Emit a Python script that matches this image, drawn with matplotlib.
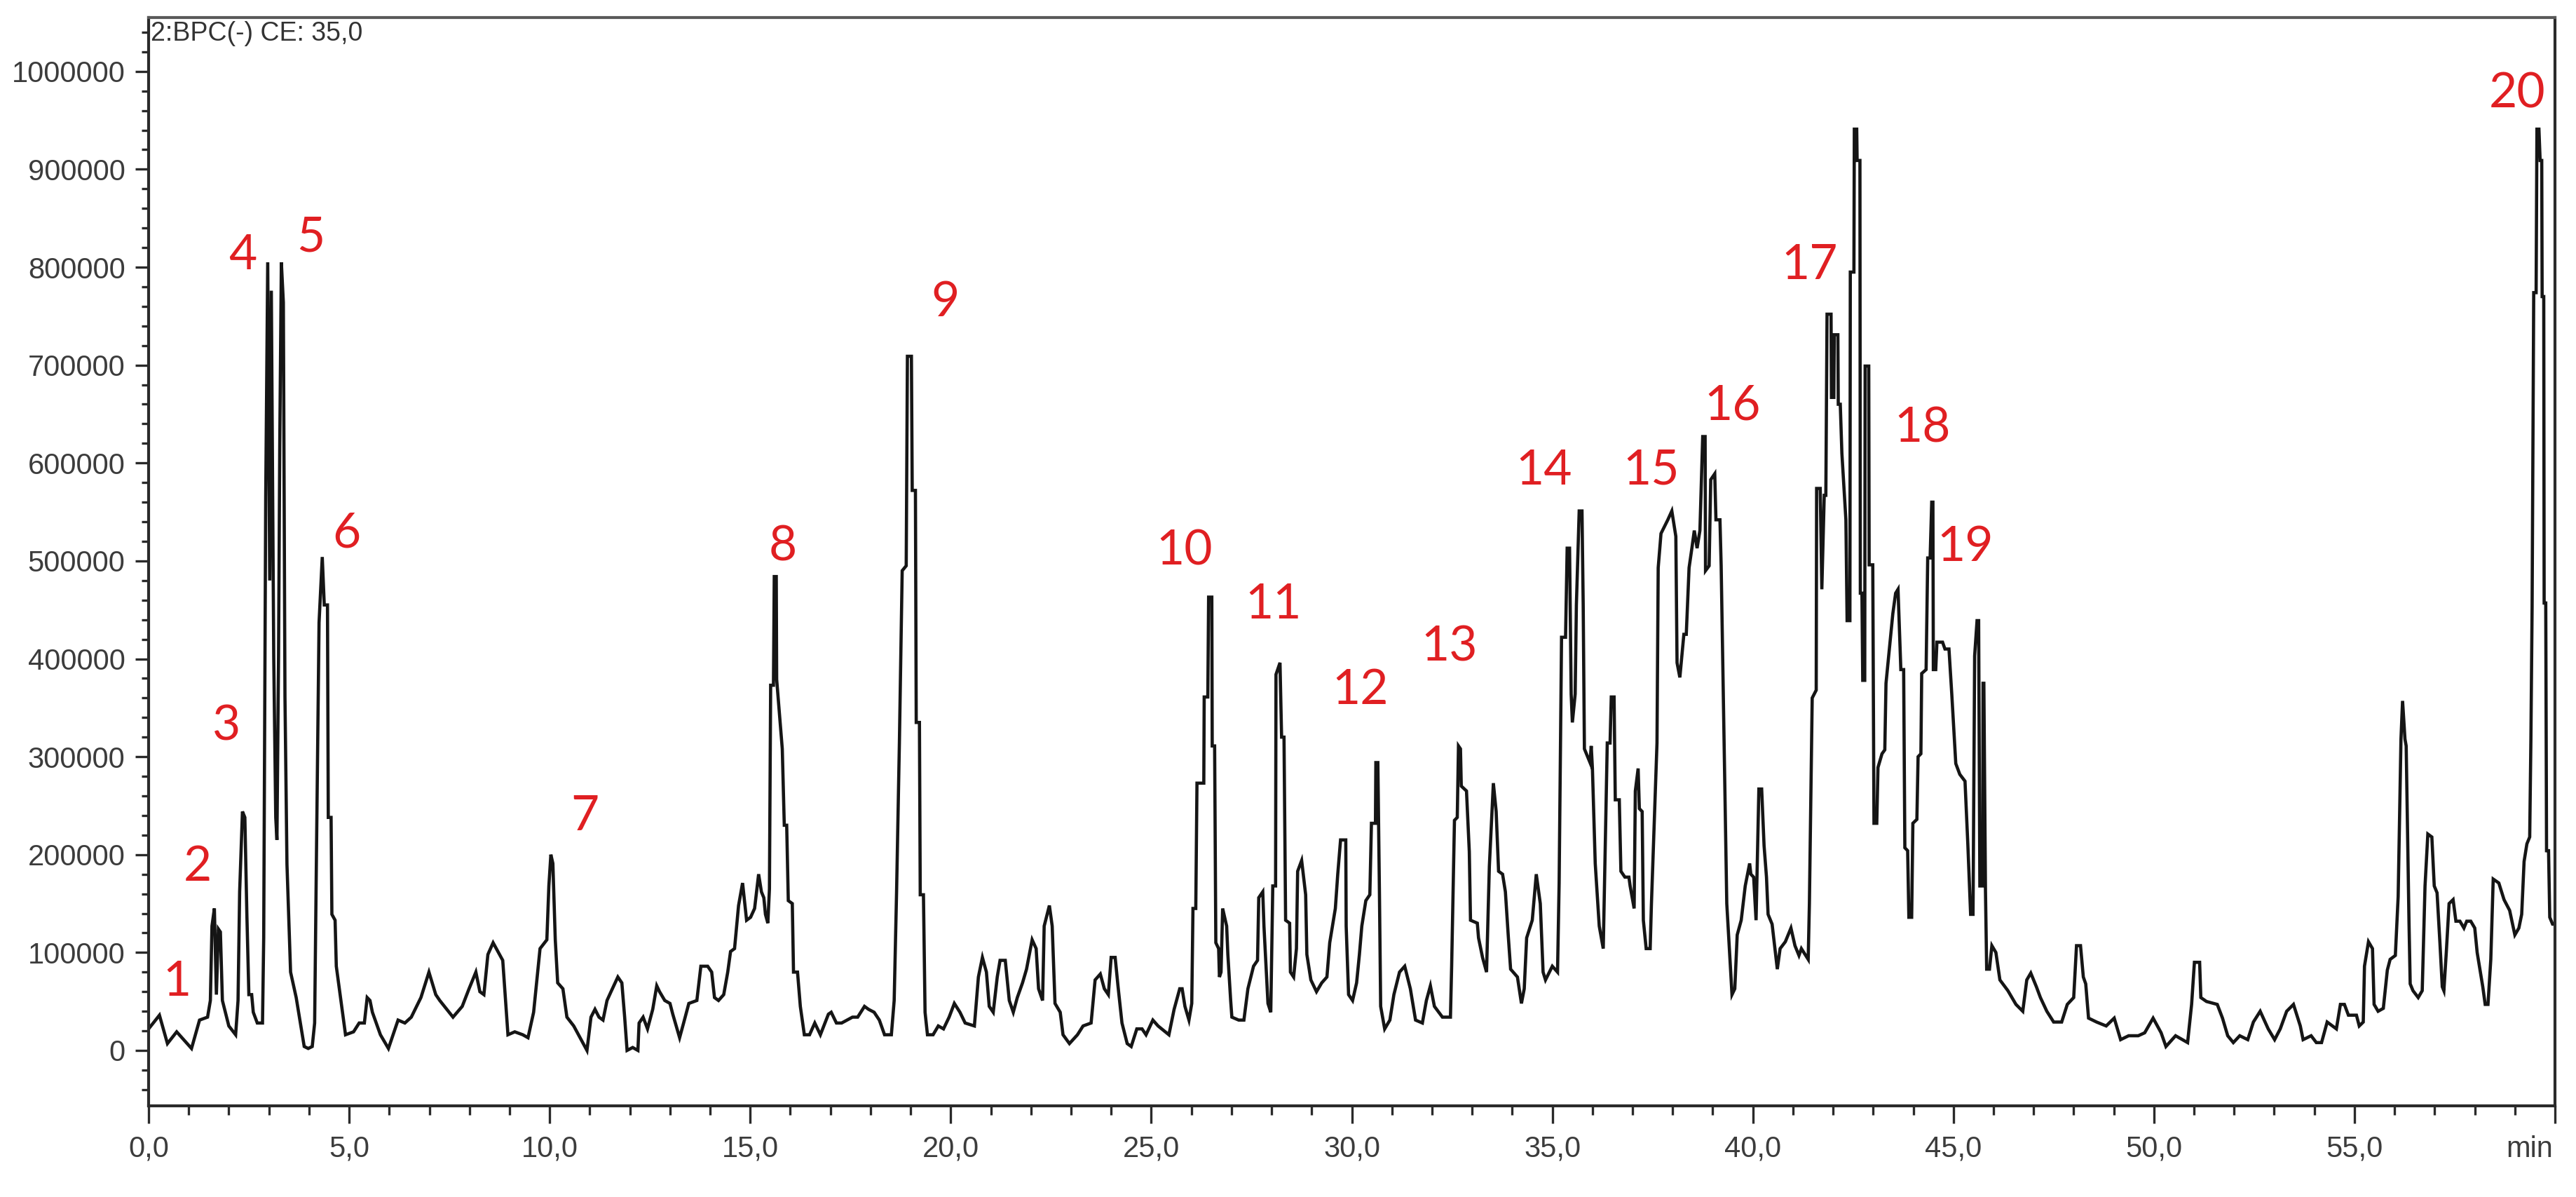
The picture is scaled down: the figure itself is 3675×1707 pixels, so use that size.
import numpy as np
import matplotlib
matplotlib.use("Agg")
import matplotlib.pyplot as plt
from matplotlib import font_manager
from matplotlib.ticker import MultipleLocator, FixedLocator, FuncFormatter

# ---------------- data (retention time in min, intensity in thousands of counts) -------------
rt_seg1 = [0.00,0.27,0.47,0.70,1.07,1.27,1.47,1.54,1.58,1.64,1.69,1.74,1.79,1.84,2.00,2.17,2.23,2.27,2.34,2.40,
           2.45,2.50,2.57,2.61,2.71,2.84,2.87,2.92,2.97,3.02,3.06,3.12,3.17,3.20,3.24,3.27,3.31,3.36,3.40,3.45,
           3.54,3.68,3.88,3.98,4.08,4.14,4.18,4.25,4.33,4.38,4.46,4.48,4.55,4.57,4.65,4.68,4.91,5.11,5.25,5.38,
           5.45,5.52,5.58,5.78,5.98,6.22,6.39,6.55,6.79,6.99,7.16,7.26,7.59,7.82,7.99,8.16,8.26,8.36,8.46,8.59,
           8.83,8.96,9.13,9.33,9.46,9.60,9.76,9.93,9.98,10.03,10.08,10.14,10.20]
int_seg1 = [22,36,7,19,2,31,34,51,127,145,57,124,121,51,25,16,51,162,244,238,
            139,57,57,39,28,28,115,566,805,480,776,402,238,215,402,618,805,764,361,190,
            80,54,4,2,4,28,180,437,504,455,455,238,238,139,133,86,16,19,28,28,
            54,51,39,16,2,31,28,34,54,80,57,51,34,45,63,80,60,57,98,110,
            92,16,19,16,13,39,104,113,168,200,191,113,69]

rt_seg2 = [10.33,10.43,10.60,10.93,11.03,11.13,11.23,11.33,11.43,11.53,11.70,11.80,11.87,11.93,12.07,12.20,12.23,
           12.33,12.44,12.57,12.67,12.74,12.87,13.00,13.07,13.24,13.34,13.47,13.67,13.77,13.94,14.04,14.11,14.21,
           14.34,14.44,14.51,14.61,14.71,14.81,14.91,15.01,15.11,15.21,15.28,15.34,15.38,15.44,15.48,15.51,15.58,
           15.60,15.65,15.66,15.73,15.80,15.85,15.91,15.95,16.05,16.08,16.18,16.25,16.35,16.48,16.61,16.75,16.95,
           17.02,17.15,17.28,17.55,17.68,17.85,17.95,18.09,18.22,18.35,18.52,18.59,18.65,18.72,18.79,18.89,18.92,
           19.02,19.04,19.12,19.14,19.22,19.24,19.32,19.36,19.42,19.56,19.69,19.82,19.96,20.09,20.23,20.36]
int_seg2 = [63,34,25,0,34,42,34,31,51,60,75,69,34,0,3,0,28,
            34,22,42,66,60,51,48,37,13,28,48,51,86,86,80,54,51,
            57,80,101,104,148,171,133,136,145,180,162,156,139,130,165,373,373,
            484,484,379,343,308,230,230,153,150,80,80,45,16,16,28,16,37,
            39,28,28,34,34,45,42,39,31,16,16,51,162,314,490,495,709,
            709,572,572,335,335,159,159,39,16,16,25,22,34,48,39,28]

rt_seg3 = [20.59,20.69,20.79,20.89,20.96,21.06,21.16,21.23,21.36,21.46,21.56,21.66,21.79,21.89,22.03,22.13,22.19,
           22.29,22.33,22.46,22.53,22.60,22.73,22.80,22.96,23.16,23.30,23.50,23.60,23.73,23.83,23.93,24.00,24.10,
           24.17,24.27,24.40,24.50,24.64,24.77,24.87,25.04,25.17,25.44,25.57,25.71,25.77,25.84,25.94,26.01,26.04,
           26.11,26.14,26.31,26.32,26.41,26.43,26.51,26.52,26.58,26.61,26.68,26.70,26.74,26.78,26.88,26.91,26.98,
           27.01,27.18,27.31,27.41,27.55,27.65,27.68,27.78,27.81,27.91,27.98,28.03,28.10,28.11,28.21,28.25,28.31,
           28.35,28.45,28.47,28.55,28.62,28.65,28.75,28.85,28.88,28.98,29.12,29.25,29.38,29.45,29.59,29.65,29.72,
           29.85,29.86,29.92,30.02,30.12,30.19]
int_seg3 = [25,75,95,80,45,39,75,92,92,51,39,54,69,83,113,104,63,
            51,127,148,127,48,39,16,7,16,25,28,72,78,63,57,95,95,
            66,28,7,4,22,22,16,31,25,16,42,63,63,45,31,48,145,
            145,273,273,361,361,463,463,311,311,110,104,75,80,145,127,98,51,
            34,31,31,63,86,92,156,162,127,48,39,168,168,384,396,320,320,
            133,130,80,75,104,183,194,159,98,72,60,69,75,110,145,180,215,
            215,127,57,51,69,98]

rt_seg4 = [30.25,30.35,30.45,30.49,30.59,30.60,30.65,30.69,30.72,30.82,30.95,31.05,31.19,31.32,31.46,31.59,31.76,
           31.86,31.96,32.06,32.26,32.46,32.49,32.56,32.63,32.66,32.71,32.73,32.86,32.93,32.96,33.13,33.16,33.26,
           33.36,33.43,33.53,33.60,33.66,33.76,33.83,33.90,33.96,34.13,34.23,34.30,34.36,34.50,34.60,34.70,34.77,
           34.83,35.00,35.13,35.17,35.23,35.33,35.37,35.43,35.47,35.50,35.57,35.60,35.67,35.74,35.77,35.80,35.94,
           35.97,36.00,36.07,36.17,36.27,36.30,36.37,36.44,36.47,36.54,36.57,36.67,36.71,36.81,36.91,36.94,37.04,
           37.07,37.14,37.17,37.24,37.27,37.34,37.44,37.47,37.61,37.64,37.71,37.88,37.98,38.08,38.11,38.18,38.28,
           38.34,38.41,38.48,38.54,38.61,38.68,38.75,38.81,38.82,38.91,38.95,39.05,39.08,39.18,39.21,39.28,39.35,
           39.48,39.55,39.61,39.71,39.81,39.92,39.95,40.02,40.08,40.15,40.22,40.28,40.34]
int_seg4 = [127,153,159,232,232,294,294,159,45,22,31,57,80,86,63,31,28,
            51,66,45,34,34,86,235,238,311,308,270,265,203,133,130,115,95,
            80,188,273,244,183,180,162,118,83,75,48,63,115,133,180,150,80,
            72,86,80,171,422,422,513,513,364,335,364,455,551,551,455,308,294,
            311,288,191,127,104,168,314,314,361,361,256,256,183,177,177,168,145,
            265,288,247,244,133,104,104,148,314,493,528,542,551,525,396,381,425,
            425,493,513,531,513,531,627,627,490,495,583,589,542,542,495,323,150,
            57,63,118,133,168,191,180,177,133,267,267,209,177]

rt_seg5 = [40.38,40.48,40.55,40.61,40.68,40.81,40.95,41.05,41.15,41.21,41.38,41.41,41.48,41.58,41.59,41.68,41.72,
           41.78,41.82,41.85,41.95,41.96,42.02,42.03,42.12,42.13,42.18,42.22,42.32,42.35,42.42,42.43,42.52,42.53,
           42.59,42.60,42.67,42.68,42.72,42.74,42.79,42.80,42.89,42.90,42.99,43.02,43.09,43.12,43.22,43.29,43.32,
           43.42,43.49,43.56,43.62,43.69,43.76,43.79,43.86,43.89,43.96,43.99,44.09,44.12,44.19,44.21,44.32,44.36,
           44.42,44.46,44.49,44.50,44.56,44.59,44.73,44.79,44.89,44.96,45.06,45.16,45.29,45.36,45.43,45.49,45.53,
           45.59,45.63,45.66,45.73,45.74,45.76,45.80,45.83,45.90,45.96,46.06,46.16,46.36,46.56,46.73,46.83,46.93,
           47.07,47.17,47.33,47.50,47.70,47.84,48.00,48.07,48.17,48.24,48.30,48.37,48.57,48.81,49.01,49.17,49.37,
           49.61,49.77,49.98,50.18,50.30]
int_seg5 = [139,129,104,83,104,111,125,107,97,104,93,150,360,368,574,574,471,
            567,567,752,752,667,667,731,731,660,660,610,542,439,439,795,795,941,
            941,909,909,467,467,378,378,699,699,496,496,232,232,289,303,307,375,
            417,446,467,471,389,389,207,204,136,136,232,236,300,303,385,389,503,
            503,560,560,389,389,417,417,410,410,364,293,282,275,211,139,139,403,
            439,439,168,168,375,375,164,83,83,107,100,72,61,47,40,72,79,
            65,54,40,29,29,47,54,107,107,75,68,33,29,25,33,11,15,
            15,18,33,18,4]

rt_seg6 = [50.54,50.71,50.84,50.94,51.01,51.14,51.17,51.31,51.58,51.71,51.84,51.98,52.14,52.34,52.48,52.65,52.85,
           53.01,53.15,53.31,53.48,53.65,53.72,53.92,54.05,54.18,54.32,54.45,54.55,54.65,54.75,54.85,55.05,55.12,
           55.22,55.25,55.35,55.45,55.49,55.59,55.72,55.82,55.89,56.02,56.09,56.16,56.20,56.26,56.29,56.36,56.39,
           56.46,56.59,56.69,56.76,56.83,56.93,56.99,57.06,57.13,57.19,57.23,57.29,57.36,57.46,57.53,57.63,57.73,
           57.80,57.90,58.00,58.06,58.20,58.26,58.33,58.40,58.46,58.60,58.73,58.87,59.00,59.10,59.17,59.23,59.30,
           59.37,59.40,59.43,59.47,59.53,59.55,59.60,59.63,59.67,59.68,59.72,59.73,59.77,59.79,59.84,59.87,59.94,
           59.99]
int_seg6 = [15,11,8,47,90,90,54,50,47,33,15,8,15,11,29,40,22,
            11,22,40,47,25,11,15,8,8,29,25,22,47,47,36,36,25,
            29,86,111,104,47,40,43,82,93,97,157,318,357,318,311,132,68,
            61,54,61,168,221,218,168,161,111,65,61,100,150,154,132,132,125,
            132,132,125,100,65,47,47,93,175,171,154,143,118,125,139,193,211,
            218,318,453,774,774,941,941,909,909,770,770,457,457,204,204,136,129,
            129]

peak_labels = ["1","2","3","4","5","6","7","8","9","10","11","12","13","14","15","16","17","18","19","20"]
peak_label_rt = [0.71,1.22,1.94,2.35,4.05,4.93,10.88,15.81,19.86,25.83,28.05,30.22,32.44,34.79,37.46,39.49,41.41,44.22,45.29,59.05]
peak_label_int = [70,187,331,812,830,528,239,514,764,510,455,368,412,592,592,658,802,635,514,977]

y_ticks = [0,100000,200000,300000,400000,500000,600000,700000,800000,900000,1000000]
x_ticks = [0,5,10,15,20,25,30,35,40,45,50,55]
header = "2:BPC(-) CE: 35,0"

# ---------------- assemble ----------------
rt = np.concatenate([rt_seg1, rt_seg2, rt_seg3, rt_seg4, rt_seg5, rt_seg6])
inten = np.concatenate([int_seg1, int_seg2, int_seg3, int_seg4, int_seg5, int_seg6]) * 1000.0

names = {f.name for f in font_manager.fontManager.ttflist}
tick_font = "Liberation Sans" if "Liberation Sans" in names else "DejaVu Sans"
if "Liberation Sans Narrow" in names:
    red_font, red_size = "Liberation Sans Narrow", 56
else:
    red_font, red_size = ("Lato" if "Lato" in names else "DejaVu Sans"), 50

W, H, DPI = 3675, 1707, 100
fig = plt.figure(figsize=(W / DPI, H / DPI), dpi=DPI, facecolor="white")
ax = fig.add_axes([212 / W, 1 - 1577 / H, (3645 - 212) / W, (1577 - 25) / H])

ax.plot(rt, inten, color="#151515", lw=3.3, solid_joinstyle="miter")

ax.set_xlim(0, 60)
ax.set_ylim(-56600, 1055000)

for s in ax.spines.values():
    s.set_linewidth(3.0)
    s.set_color("#2a2a2a")
ax.spines["top"].set_color("#5a5a5a")

ax.xaxis.set_major_locator(FixedLocator(x_ticks + [60]))
ax.xaxis.set_minor_locator(MultipleLocator(1))
ax.xaxis.set_major_formatter(FuncFormatter(lambda v, p: "" if v >= 59.9 else f"{v:.1f}".replace(".", ",")))
ax.yaxis.set_major_locator(FixedLocator(y_ticks))
ax.yaxis.set_minor_locator(MultipleLocator(20000))
ax.yaxis.set_major_formatter(FuncFormatter(lambda v, p: f"{int(round(v))}"))

ax.tick_params(axis="x", which="major", length=18, width=2.4, color="#2a2a2a", pad=12,
               labelsize=30, labelcolor="#3c3c3c")
ax.tick_params(axis="x", which="minor", length=9, width=2.4, color="#2a2a2a")
ax.tick_params(axis="y", which="major", length=14, width=2.4, color="#2a2a2a", pad=10,
               labelsize=30, labelcolor="#3c3c3c")
ax.tick_params(axis="y", which="minor", length=7, width=2.4, color="#2a2a2a")
for lab in ax.get_xticklabels() + ax.get_yticklabels():
    lab.set_fontfamily(tick_font)

ax.annotate("min", xy=(59.95, 0), xycoords=("data", "axes fraction"), xytext=(0, -30),
            textcoords="offset points", ha="right", va="top", fontsize=30, color="#3c3c3c",
            family=tick_font, annotation_clip=False)

ax.text(0.001, 0.997, header, transform=ax.transAxes, ha="left", va="top",
        fontsize=27, color="#333333", family=tick_font)

for lab, x, y in zip(peak_labels, peak_label_rt, peak_label_int):
    ax.text(x, y * 1000.0, lab, ha="center", va="center", fontsize=red_size,
            color="#e01f22", family=red_font)

fig.savefig("out.png", dpi=DPI, facecolor="white")
